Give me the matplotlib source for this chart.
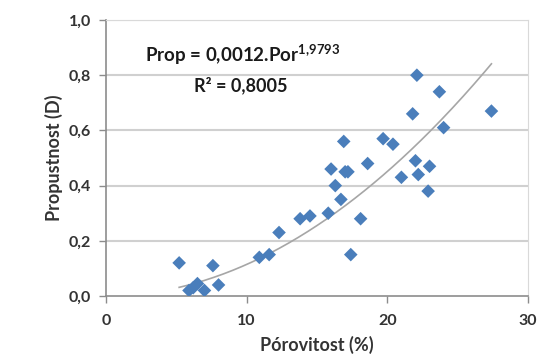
import numpy as np
import matplotlib.pyplot as plt
from matplotlib.ticker import FuncFormatter

plt.rcParams['font.family'] = ['Lato', 'DejaVu Sans']
plt.rcParams['mathtext.fontset'] = 'custom'
plt.rcParams['mathtext.rm'] = 'Lato:bold'
plt.rcParams['mathtext.bf'] = 'Lato:bold'
plt.rcParams['mathtext.it'] = 'Lato:bold'

# porosity (%) and permeability (D)
porovitost = [5.2, 5.9, 6.2, 6.5, 7.0, 7.6, 8.0, 10.9, 11.6, 12.3, 13.8, 14.5,
              15.8, 16.0, 16.3, 16.7, 16.9, 17.0, 17.2, 17.4, 18.1, 18.6, 19.7,
              20.4, 21.0, 21.8, 22.0, 22.1, 22.2, 22.9, 23.0, 23.7, 24.0, 27.4]
propustnost = [0.12, 0.02, 0.03, 0.045, 0.02, 0.11, 0.04, 0.14, 0.15, 0.23, 0.28, 0.29,
               0.30, 0.46, 0.40, 0.35, 0.56, 0.45, 0.45, 0.15, 0.28, 0.48, 0.57,
               0.55, 0.43, 0.66, 0.49, 0.80, 0.44, 0.38, 0.47, 0.74, 0.61, 0.67]

coef_a = 0.0012
coef_b = 1.9793
r2 = 0.8005

xticks = [0, 10, 20, 30]
yticks = [0.0, 0.2, 0.4, 0.6, 0.8, 1.0]


def cz(v, nd):
    # decimal comma
    return f"{v:.{nd}f}".replace('.', ',')


fig = plt.figure(figsize=(5.38, 3.64), dpi=100)
ax = fig.add_axes([106/538, 1 - 296/364, 422/538, 276/364])

x = np.array(porovitost)
y = np.array(propustnost)

for yt in yticks[1:]:
    ax.axhline(yt, color='#d0d0d0', lw=1.5, zorder=0)

xs = np.linspace(x.min(), x.max(), 200)
ax.plot(xs, coef_a * xs ** coef_b, color='#a6a6a6', lw=1.2, zorder=2)

ax.scatter(x, y, marker='D', s=48, color='#4a7ebb', edgecolors='none', zorder=3)

ax.set_xlim(0, 30)
ax.set_ylim(0, 1.0)
ax.set_xticks(xticks)
ax.set_yticks(yticks)
ax.yaxis.set_major_formatter(FuncFormatter(lambda v, p: cz(v, 1)))

for side in ['top', 'right']:
    ax.spines[side].set_color('#d9d9d9')
for side in ['left', 'bottom']:
    ax.spines[side].set_color('#8c8c8c')
    ax.spines[side].set_linewidth(1.2)
ax.tick_params(axis='both', colors='#8c8c8c', length=5, width=1,
               labelcolor='#333333', labelsize=11.5)
ax.tick_params(axis='x', pad=8)
ax.tick_params(axis='y', pad=6)
for lbl in ax.get_xticklabels() + ax.get_yticklabels():
    lbl.set_fontweight('bold')

ax.set_xlabel('Pórovitost (%)', fontsize=13, fontweight='bold', color='#333333', labelpad=6)
ax.set_ylabel('Propustnost (D)', fontsize=13, fontweight='bold', color='#333333', labelpad=4)

exp_txt = cz(coef_b, 4).replace(',', '{,}')
ax.text(0.325, 0.873, f"Prop = {cz(coef_a, 4)}.Por$^{{{exp_txt}}}$", transform=ax.transAxes,
        ha='center', va='center', fontsize=13.5, fontweight='bold', color='#1a1a1a',
        bbox=dict(facecolor='white', edgecolor='none', pad=4), zorder=4)
ax.text(0.32, 0.764, f"R² = {cz(r2, 4)}", transform=ax.transAxes,
        ha='center', va='center', fontsize=13, fontweight='bold', color='#1a1a1a', zorder=4)

fig.savefig('out.png', dpi=100)
